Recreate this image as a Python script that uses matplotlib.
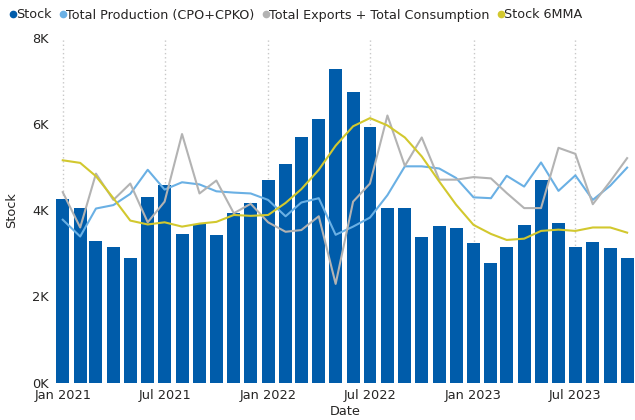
import matplotlib
matplotlib.use("Agg")
import matplotlib.pyplot as plt
import matplotlib.dates as mdates
from matplotlib.lines import Line2D
from matplotlib.ticker import FuncFormatter, MultipleLocator
import pandas as pd

plt.rcParams['font.family'] = ['DejaVu Sans']

months = pd.date_range("2021-01-01", "2023-10-01", freq="MS")

stock = [4270, 4060, 3290, 3150, 2900, 4310, 4580, 3450, 3670, 3430, 3930, 4160,
         4710, 5080, 5710, 6130, 7270, 6740, 5940, 4060, 4060, 3380, 3640, 3590,
         3240, 2780, 3150, 3660, 4710, 3710, 3150, 3270, 3130, 2900]

production = [3780, 3390, 4040, 4120, 4380, 4940, 4480, 4650, 4600, 4440, 4410, 4390,
              4240, 3860, 4180, 4280, 3430, 3620, 3830, 4350, 5020, 5020, 4970, 4750,
              4300, 4280, 4800, 4550, 5110, 4450, 4810, 4240, 4570, 4990]

exports_cons = [4420, 3600, 4850, 4240, 4620, 3720, 4200, 5770, 4390, 4690, 3930, 4150,
                3720, 3500, 3540, 3860, 2290, 4200, 4620, 6200, 5030, 5690, 4710, 4710,
                4770, 4740, 4400, 4050, 4050, 5450, 5310, 4140, 4670, 5210]

stock_6mma = [5160, 5100, 4790, 4280, 3760, 3670, 3720, 3620, 3690, 3730, 3890, 3870,
              3890, 4170, 4490, 4940, 5500, 5950, 6140, 5970, 5690, 5250, 4670, 4130,
              3660, 3450, 3310, 3340, 3520, 3550, 3520, 3600, 3600, 3480]

tick_dates = pd.to_datetime(["2021-01-01", "2021-07-01", "2022-01-01",
                             "2022-07-01", "2023-01-01", "2023-07-01"])
tick_labels = ["Jan 2021", "Jul 2021", "Jan 2022", "Jul 2022", "Jan 2023", "Jul 2023"]

c_stock = "#005CAA"
c_prod = "#6AB0E4"
c_exp = "#B3B3B3"
c_mma = "#D2C82E"
txt = "#252423"

fig = plt.figure(figsize=(6.35, 4.2), dpi=100)
W, H = 635, 420
left, right, top, bottom = 56, 635, 38, 382.5
ax = fig.add_axes([left / W, 1 - bottom / H, (right - left) / W, (bottom - top) / H])

ax.bar(months, stock, width=23, color=c_stock, zorder=2)
ax.plot(months, production, color=c_prod, lw=1.5, zorder=3)
ax.plot(months, exports_cons, color=c_exp, lw=1.5, zorder=3)
ax.plot(months, stock_6mma, color=c_mma, lw=1.5, zorder=3)

ax.set_xlim(pd.Timestamp("2020-12-20"), pd.Timestamp("2023-10-15"))
ax.set_ylim(0, 8000)
ax.yaxis.set_major_locator(MultipleLocator(2000))
ax.yaxis.set_major_formatter(FuncFormatter(lambda v, p: f"{int(v/1000)}K"))
ax.set_xticks(tick_dates)
ax.set_xticklabels(tick_labels)

for s in ax.spines.values():
    s.set_visible(False)
ax.tick_params(axis='both', length=0, labelsize=9.3, colors=txt)
ax.tick_params(axis='y', pad=5)
ax.tick_params(axis='x', pad=5)
ax.grid(axis='x', color="#C8C8C8", linestyle=(0, (1, 2)), lw=1, zorder=0)
ax.grid(axis='y', visible=False)
ax.set_axisbelow(True)

ax.set_xlabel("Date", fontsize=9.3, color=txt, labelpad=1.5)
ax.set_ylabel("Stock", fontsize=9.3, color=txt, labelpad=10)

handles = [Line2D([], [], marker='o', ls='none', color=c, markersize=4.5)
           for c in (c_stock, c_prod, c_exp, c_mma)]
labels = ["Stock", "Total Production (CPO+CPKO)", "Total Exports + Total Consumption", "Stock 6MMA"]
fig.legend(handles, labels, loc='center left', bbox_to_anchor=(0.0, 1 - 15 / H),
           ncol=4, frameon=False, fontsize=9.2, handletextpad=-0.35, columnspacing=0.3,
           handlelength=1.2, borderaxespad=0, labelcolor=txt)

fig.savefig("out.png", dpi=100)
